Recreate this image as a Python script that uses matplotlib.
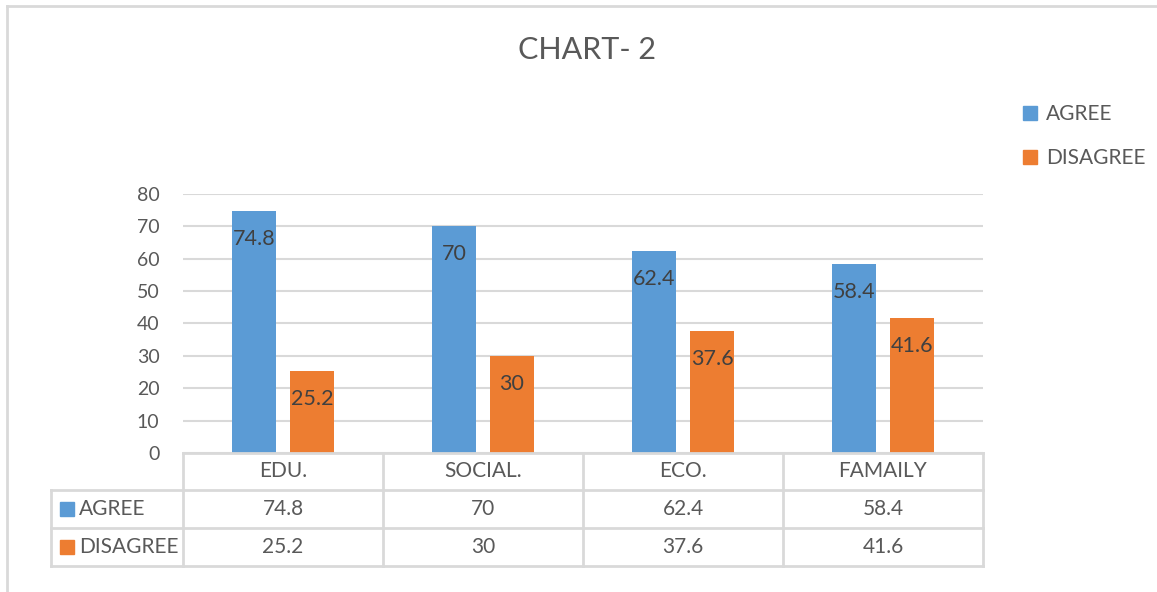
import matplotlib
matplotlib.use("Agg")
import matplotlib.pyplot as plt
from matplotlib.lines import Line2D
import numpy as np

categories = ["EDU.", "SOCIAL.", "ECO.", "FAMAILY"]
agree = [74.8, 70, 62.4, 58.4]
disagree = [25.2, 30, 37.6, 41.6]
series_names = ["AGREE", "DISAGREE"]
title = "CHART- 2"
yticks = [0, 10, 20, 30, 40, 50, 60, 70, 80]

BLUE = "#5B9BD5"
ORANGE = "#ED7D31"
GRID = "#D9D9D9"
TXT = "#595959"
LBL = "#404040"

plt.rcParams['font.family'] = ['Lato', 'DejaVu Sans']

W, H = 1157, 592
fig = plt.figure(figsize=(W / 100, H / 100), dpi=100)

def fx(px):
    return px / W

def fy(py):
    return 1 - py / H

# main plot axes
ax = fig.add_axes([fx(183), fy(453), fx(983) - fx(183), fy(194) - fy(453)])
x = np.arange(len(categories))
bw = 0.22
off = 0.145
b1 = ax.bar(x - off, agree, bw, color=BLUE, zorder=3)
b2 = ax.bar(x + off, disagree, bw, color=ORANGE, zorder=3)
ax.set_xlim(-0.5, len(categories) - 0.5)
ax.set_ylim(0, 80)
ax.set_yticks(yticks)
ax.set_yticklabels([str(v) for v in yticks], fontsize=14, color=TXT)
ax.tick_params(axis='y', length=0, pad=17)
ax.set_xticks([])
for s in ax.spines.values():
    s.set_visible(False)
ax.yaxis.grid(True, color=GRID, linewidth=1.5, zorder=0)
ax.set_axisbelow(True)

for bars, vals in ((b1, agree), (b2, disagree)):
    for rect, v in zip(bars, vals):
        ax.annotate(f"{v:g}", (rect.get_x() + rect.get_width() / 2, v),
                    xytext=(0, -20), textcoords="offset points",
                    ha="center", va="center", fontsize=15.5, color=LBL, zorder=4)

# data table axes
tleft, tright, ttop, tbot = 51, 983, 453, 566
tab = fig.add_axes([fx(tleft), fy(tbot), fx(tright) - fx(tleft), fy(ttop) - fy(tbot)])
ncat = len(categories)
x0 = -0.5 - (183 - tleft) / 200.0
tab.set_xlim(x0, ncat - 0.5)
tab.set_ylim(tbot, ttop)
tab.axis("off")
rows = [453, 490, 528, 566]
lw = 2
# horizontal lines
tab.plot([-0.5, ncat - 0.5], [rows[0], rows[0]], color=GRID, lw=lw, clip_on=False)
for r in rows[1:]:
    tab.plot([x0, ncat - 0.5], [r, r], color=GRID, lw=lw, clip_on=False)
# vertical lines
for i in range(ncat + 1):
    tab.plot([i - 0.5, i - 0.5], [rows[0], rows[-1]], color=GRID, lw=lw, clip_on=False)
tab.plot([x0, x0], [rows[1], rows[-1]], color=GRID, lw=lw, clip_on=False)

ymid = [(rows[k] + rows[k + 1]) / 2 for k in range(3)]
for i, c in enumerate(categories):
    tab.text(i, ymid[0], c, ha="center", va="center", fontsize=15, color=TXT)
    tab.text(i, ymid[1], f"{agree[i]:g}", ha="center", va="center", fontsize=15, color=TXT)
    tab.text(i, ymid[2], f"{disagree[i]:g}", ha="center", va="center", fontsize=15, color=TXT)
for k, (name, col) in enumerate(zip(series_names, [BLUE, ORANGE])):
    tab.plot([x0 + 16 / 200.0], [ymid[k + 1]], marker="s", markersize=10, color=col,
             linestyle="none", clip_on=False)
    tab.text(x0 + 28 / 200.0, ymid[k + 1], name, ha="left", va="center", fontsize=15, color=TXT)

# title
fig.text(fx(587), fy(50), title, ha="center", va="center", fontsize=22, color=TXT)

# legend
handles = [Line2D([], [], marker="s", markersize=10, color=c, linestyle="none") for c in (BLUE, ORANGE)]
leg = fig.legend(handles, series_names, loc="center left",
                 bbox_to_anchor=(fx(1022), fy(136)), frameon=False, fontsize=15,
                 labelcolor=TXT, handlelength=0.8, handletextpad=0.35, labelspacing=1.15,
                 borderpad=0, borderaxespad=0)

# outer border (left and top)
fig.add_artist(Line2D([fx(7), fx(7)], [0, fy(6)], color=GRID, lw=2))
fig.add_artist(Line2D([fx(7), 1], [fy(6), fy(6)], color=GRID, lw=2))

fig.savefig("out.png", dpi=100)
